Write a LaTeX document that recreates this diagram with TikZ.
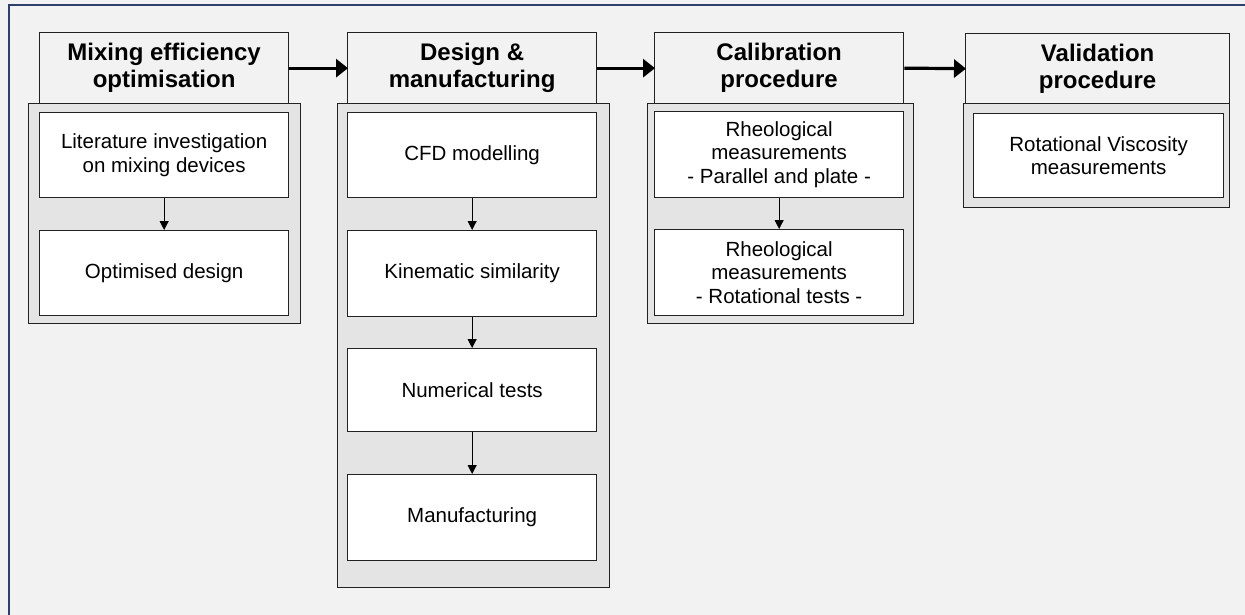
\documentclass[tikz,border=0pt]{standalone}
\usepackage{fontspec}
\setmainfont{Liberation Sans}
\usetikzlibrary{arrows.meta}
\definecolor{pagebg}{HTML}{F2F2F2}
\definecolor{groupbg}{HTML}{E4E4E4}
\definecolor{framecol}{HTML}{2E3F6B}
\definecolor{edgecol}{HTML}{222222}
\tikzset{
  phase/.style={draw=edgecol, line width=1.3pt, fill=pagebg, anchor=north west, inner sep=0pt,
    align=center, font=\fontsize{24}{27}\selectfont\bfseries},
  group/.style={draw=edgecol, line width=1.3pt, fill=groupbg, anchor=north west, inner sep=0pt},
  task/.style={draw=edgecol, line width=1.3pt, fill=white, anchor=north west, inner sep=0pt,
    align=center, font=\fontsize{20.5}{23.5}\selectfont},
  flow/.style={draw=black, line width=1pt, -{Triangle[width=9pt,length=9pt]}},
  bigflow/.style={draw=black, line width=3.2pt, -{Triangle[width=18pt,length=12pt]}, shorten >=-1pt}
}
\begin{document}
\begin{tikzpicture}[x=1pt,y=-1pt]
  \useasboundingbox (0,0) rectangle (1245,615);
  \clip (0,0) rectangle (1245,615);
  \fill[pagebg] (0,0) rectangle (1245,615);
  \draw[framecol, line width=2pt] (9,5) rectangle (1270,640);

  % Column 1: mixing efficiency
  \node[group, minimum width=272pt, minimum height=220pt] (g1) at (28,103) {};
  \node[phase, minimum width=249pt, minimum height=71pt] (h1) at (39,32) {Mixing efficiency\\optimisation};
  \node[task, minimum width=249pt, minimum height=85pt] (a1) at (39,112) {Literature investigation\\on mixing devices};
  \node[task, minimum width=249pt, minimum height=85pt] (a2) at (39,230) {Optimised design};

  % Column 2: design and manufacturing
  \node[group, minimum width=272pt, minimum height=484pt] (g2) at (337,103) {};
  \node[phase, minimum width=249pt, minimum height=71pt] (h2) at (347,32) {Design \&\\manufacturing};
  \node[task, minimum width=249pt, minimum height=85pt] (b1) at (347,112) {CFD modelling};
  \node[task, minimum width=249pt, minimum height=86pt] (b2) at (347,230) {Kinematic similarity};
  \node[task, minimum width=249pt, minimum height=83pt] (b3) at (347,348) {Numerical tests};
  \node[task, minimum width=249pt, minimum height=86pt] (b4) at (347,474) {Manufacturing};

  % Column 3: calibration
  \node[group, minimum width=266pt, minimum height=220pt] (g3) at (647,103) {};
  \node[phase, minimum width=249pt, minimum height=71pt] (h3) at (654,32) {Calibration\\procedure};
  \node[task, minimum width=249pt, minimum height=86pt] (c1) at (654,111) {Rheological\\measurements\\- Parallel and plate -};
  \node[task, minimum width=249pt, minimum height=86pt] (c2) at (654,229) {Rheological\\measurements\\- Rotational tests -};

  % Column 4: validation
  \node[group, minimum width=266pt, minimum height=104pt] (g4) at (963,103) {};
  \node[phase, minimum width=264pt, minimum height=70pt] (h4) at (965,33) {Validation\\procedure};
  \node[task, minimum width=250pt, minimum height=84pt] (d1) at (973,113) {Rotational Viscosity\\measurements};

  % Links inside each column
  \draw[flow] (a1.south) -- (a2.north);
  \draw[flow] (b1.south) -- (b2.north);
  \draw[flow] (b2.south) -- (b3.north);
  \draw[flow] (b3.south) -- (b4.north);
  \draw[flow] (c1.south) -- (c2.north);

  % Links between the phases
  \draw[bigflow] (h1.east) -- (h2.west);
  \draw[bigflow] (h2.east) -- (h3.west);
  \draw[bigflow] (h3.east) -- (h4.west);
\end{tikzpicture}
\end{document}
